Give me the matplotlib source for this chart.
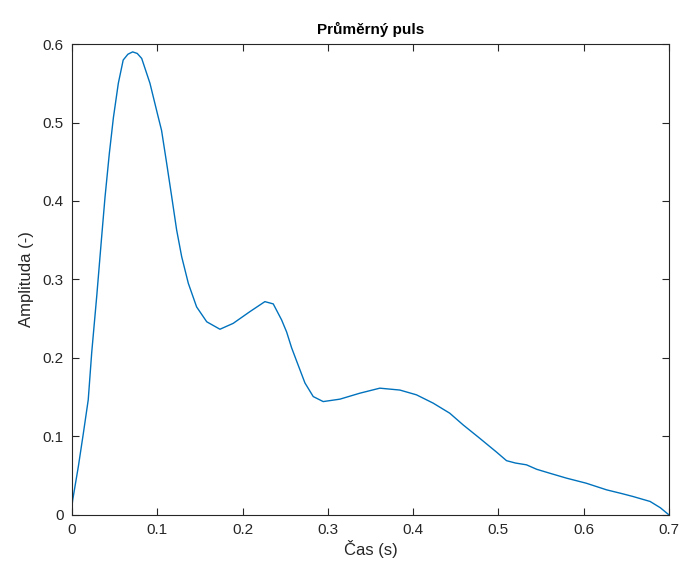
import matplotlib
matplotlib.use('Agg')
import matplotlib.pyplot as plt
import numpy as np

# values
cas = [0, 0.0008, 0.0074, 0.0133, 0.019, 0.0231, 0.029, 0.0348, 0.0387, 0.0437,
       0.0485, 0.0543, 0.060, 0.0655, 0.0711, 0.0765, 0.0817, 0.0914, 0.101, 0.105,
       0.111, 0.1169, 0.1227, 0.1286, 0.1364, 0.1461, 0.158, 0.1735, 0.189, 0.2087,
       0.2262, 0.236, 0.2458, 0.2517, 0.2575, 0.2634, 0.2732, 0.2829, 0.2946, 0.3142,
       0.3376, 0.361, 0.3845, 0.404, 0.4236, 0.443, 0.4587, 0.478, 0.4978, 0.5096,
       0.52, 0.533, 0.545, 0.560, 0.580, 0.603, 0.627, 0.645, 0.658, 0.678,
       0.69, 0.7]
amplituda = [0.012, 0.019, 0.0615, 0.104, 0.1465, 0.207, 0.279, 0.355, 0.405, 0.460,
             0.506, 0.550, 0.5796, 0.587, 0.590, 0.588, 0.5817, 0.550, 0.5074, 0.490,
             0.448, 0.4055, 0.363, 0.329, 0.295, 0.265, 0.246, 0.2365, 0.244, 0.259,
             0.2717, 0.2688, 0.2484, 0.233, 0.213, 0.196, 0.168, 0.1507, 0.1443, 0.1474,
             0.155, 0.1614, 0.159, 0.1529, 0.1423, 0.1295, 0.1146, 0.0977, 0.080, 0.069,
             0.066, 0.0637, 0.058, 0.0531, 0.0467, 0.0403, 0.0318, 0.027, 0.0233, 0.017,
             0.009, 0.0]
x_ticks = [0, 0.1, 0.2, 0.3, 0.4, 0.5, 0.6, 0.7]
y_ticks = [0, 0.1, 0.2, 0.3, 0.4, 0.5, 0.6]

plt.rcParams['font.family'] = ['Liberation Sans', 'DejaVu Sans']
axcol = (0.15, 0.15, 0.15)

fig = plt.figure(figsize=(6.86, 5.72), dpi=100)
ax = fig.add_axes([0.105, 0.1, 0.87, 0.823])
ax.plot(cas, amplituda, color='#0072BD', lw=1.0)

ax.set_xlim(0, 0.7)
ax.set_ylim(0, 0.6)
ax.set_xticks(x_ticks)
ax.set_yticks(y_ticks)
ax.set_xticklabels([f'{v:g}' for v in x_ticks])
ax.set_yticklabels([f'{v:g}' for v in y_ticks])
ax.tick_params(direction='in', top=True, right=True, length=5, width=0.8,
               colors=axcol, labelsize=11, labelcolor=axcol, pad=6)
for s in ax.spines.values():
    s.set_color(axcol)
    s.set_linewidth(0.8)

ax.set_xlabel('Čas (s)', fontsize=12, color=axcol, labelpad=2)
ax.set_ylabel('Amplituda (-)', fontsize=12, color=axcol, labelpad=6)
ax.set_title('Průměrný puls', fontsize=11, fontweight='bold', color='black', pad=7)

fig.savefig('out.png', dpi=100)
